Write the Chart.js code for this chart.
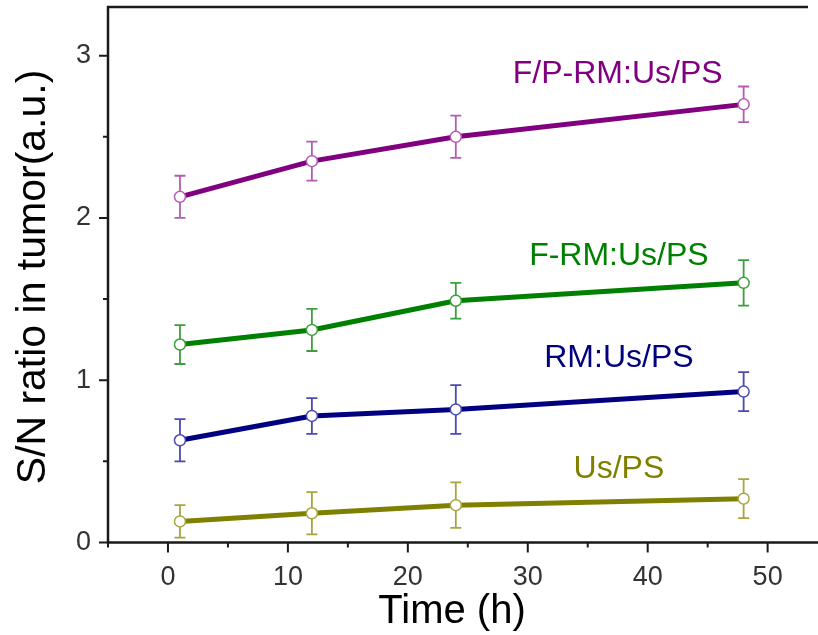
<!DOCTYPE html>
<html>
<head>
<meta charset="utf-8">
<script src="https://cdn.jsdelivr.net/npm/chart.js@4.4.1/dist/chart.umd.min.js"></script>
<style>
  html, body { margin: 0; padding: 0; background: #ffffff; }
  #wrap { width: 818px; height: 635px; }
</style>
</head>
<body>
<div id="wrap"><canvas id="c" width="818" height="635"></canvas></div>
<script>
// ---- data ----
const times = [1, 12, 24, 48];
const seriesNames = ['F/P-RM:Us/PS', 'F-RM:Us/PS', 'RM:Us/PS', 'Us/PS'];
const fpValues  = [2.13, 2.35, 2.50, 2.70];
const fpErrors  = [0.13, 0.12, 0.13, 0.11];
const fValues   = [1.22, 1.31, 1.49, 1.60];
const fErrors   = [0.12, 0.13, 0.11, 0.14];
const rmValues  = [0.63, 0.78, 0.82, 0.93];
const rmErrors  = [0.13, 0.11, 0.15, 0.12];
const usValues  = [0.13, 0.18, 0.23, 0.27];
const usErrors  = [0.10, 0.13, 0.14, 0.12];
const xTicks = [0, 10, 20, 30, 40, 50];
const yTicks = [0, 1, 2, 3];

// ---- styling ----
const lineColors = ['#800080', '#008000', '#000080', '#808000'];
const barColors  = ['#b45cb4', '#3c9e3c', '#4a4ab4', '#a6a640'];
const labelAnchors = [[37.5, 2.83], [37.6, 1.71], [37.6, 1.08], [37.6, 0.40]];

const valueSets = [fpValues, fValues, rmValues, usValues];
const errorSets = [fpErrors, fErrors, rmErrors, usErrors];

const datasets = valueSets.map((vals, i) => ({
  label: seriesNames[i],
  data: times.map((t, j) => ({ x: t, y: vals[j] })),
  errors: errorSets[i],
  borderColor: lineColors[i],
  borderWidth: 5,
  pointRadius: 5.5,
  pointBorderWidth: 1.5,
  pointBackgroundColor: '#ffffff',
  pointBorderColor: barColors[i],
  barColor: barColors[i],
  tension: 0,
  fill: false
}));

const FONT = '"Liberation Sans", Arial, sans-serif';

const errorBars = {
  id: 'errorBars',
  beforeDatasetsDraw(chart) {
    const ctx = chart.ctx;
    const xs = chart.scales.x, ys = chart.scales.y;
    ctx.save();
    chart.data.datasets.forEach(ds => {
      ctx.strokeStyle = ds.barColor;
      ctx.lineWidth = 1.8;
      ds.data.forEach((p, j) => {
        const e = ds.errors[j];
        const px = xs.getPixelForValue(p.x);
        const yt = ys.getPixelForValue(p.y + e);
        const yb = ys.getPixelForValue(p.y - e);
        ctx.beginPath();
        ctx.moveTo(px, yt); ctx.lineTo(px, yb);
        ctx.moveTo(px - 5.5, yt); ctx.lineTo(px + 5.5, yt);
        ctx.moveTo(px - 5.5, yb); ctx.lineTo(px + 5.5, yb);
        ctx.stroke();
      });
    });
    ctx.restore();
  }
};

const frame = {
  id: 'frame',
  afterDraw(chart) {
    const ctx = chart.ctx;
    const a = chart.chartArea;
    const xs = chart.scales.x, ys = chart.scales.y;
    ctx.save();
    ctx.strokeStyle = '#1a1a1a';
    ctx.lineWidth = 2.5;
    ctx.beginPath();
    ctx.moveTo(a.right - 10, a.top); ctx.lineTo(a.left, a.top);
    ctx.lineTo(a.left, a.bottom); ctx.lineTo(a.right, a.bottom);
    ctx.stroke();
    ctx.lineWidth = 2;
    ctx.beginPath();
    for (let v = xs.min; v <= xs.max + 1e-9; v += 5) {
      const px = xs.getPixelForValue(v);
      const major = Math.abs(v % 10) < 1e-9;
      ctx.moveTo(px, a.bottom); ctx.lineTo(px, a.bottom + (major ? 10 : 5));
    }
    for (let v = 0; v <= ys.max + 1e-9; v += 0.5) {
      const py = ys.getPixelForValue(v);
      const major = Math.abs(v - Math.round(v)) < 1e-9;
      ctx.moveTo(a.left, py); ctx.lineTo(a.left - (major ? 9 : 5), py);
    }
    ctx.stroke();

    // series labels
    ctx.textAlign = 'center';
    ctx.textBaseline = 'alphabetic';
    ctx.font = '32px ' + FONT;
    seriesNames.forEach((n, i) => {
      ctx.fillStyle = lineColors[i];
      ctx.fillText(n, xs.getPixelForValue(labelAnchors[i][0]), ys.getPixelForValue(labelAnchors[i][1]));
    });

    // axis titles
    ctx.fillStyle = '#000000';
    ctx.font = '40px ' + FONT;
    ctx.fillText('Time (h)', 452, 623);
    ctx.save();
    ctx.translate(45, 277);
    ctx.rotate(-Math.PI / 2);
    ctx.font = '41px ' + FONT;
    ctx.fillText('S/N ratio in tumor(a.u.)', 0, 0);
    ctx.restore();
    ctx.restore();
  }
};

function zeroPad(s) { s.paddingTop = 0; s.paddingBottom = 0; s.paddingLeft = 0; s.paddingRight = 0; }

new Chart(document.getElementById('c'), {
  type: 'line',
  data: { datasets },
  options: {
    responsive: false,
    animation: false,
    devicePixelRatio: 1,
    layout: { autoPadding: false, padding: { top: 7, left: 0, right: 0, bottom: 0 } },
    plugins: { legend: { display: false }, tooltip: { enabled: false } },
    scales: {
      x: {
        type: 'linear',
        min: -5,
        max: 54.2,
        grid: { display: false, drawTicks: false },
        border: { display: false },
        afterBuildTicks: s => { s.ticks = xTicks.map(v => ({ value: v })); },
        afterFit: s => { s.height = 92.5; zeroPad(s); },
        ticks: { padding: 19, color: '#333333', font: { family: FONT, size: 27 }, maxRotation: 0 }
      },
      y: {
        min: 0,
        max: 3.3,
        grid: { display: false, drawTicks: false },
        border: { display: false },
        afterBuildTicks: s => { s.ticks = yTicks.map(v => ({ value: v })); },
        afterFit: s => { s.width = 108; zeroPad(s); },
        ticks: { padding: 17, color: '#333333', font: { family: FONT, size: 27 } }
      }
    }
  },
  plugins: [errorBars, frame]
});
</script>
</body>
</html>
